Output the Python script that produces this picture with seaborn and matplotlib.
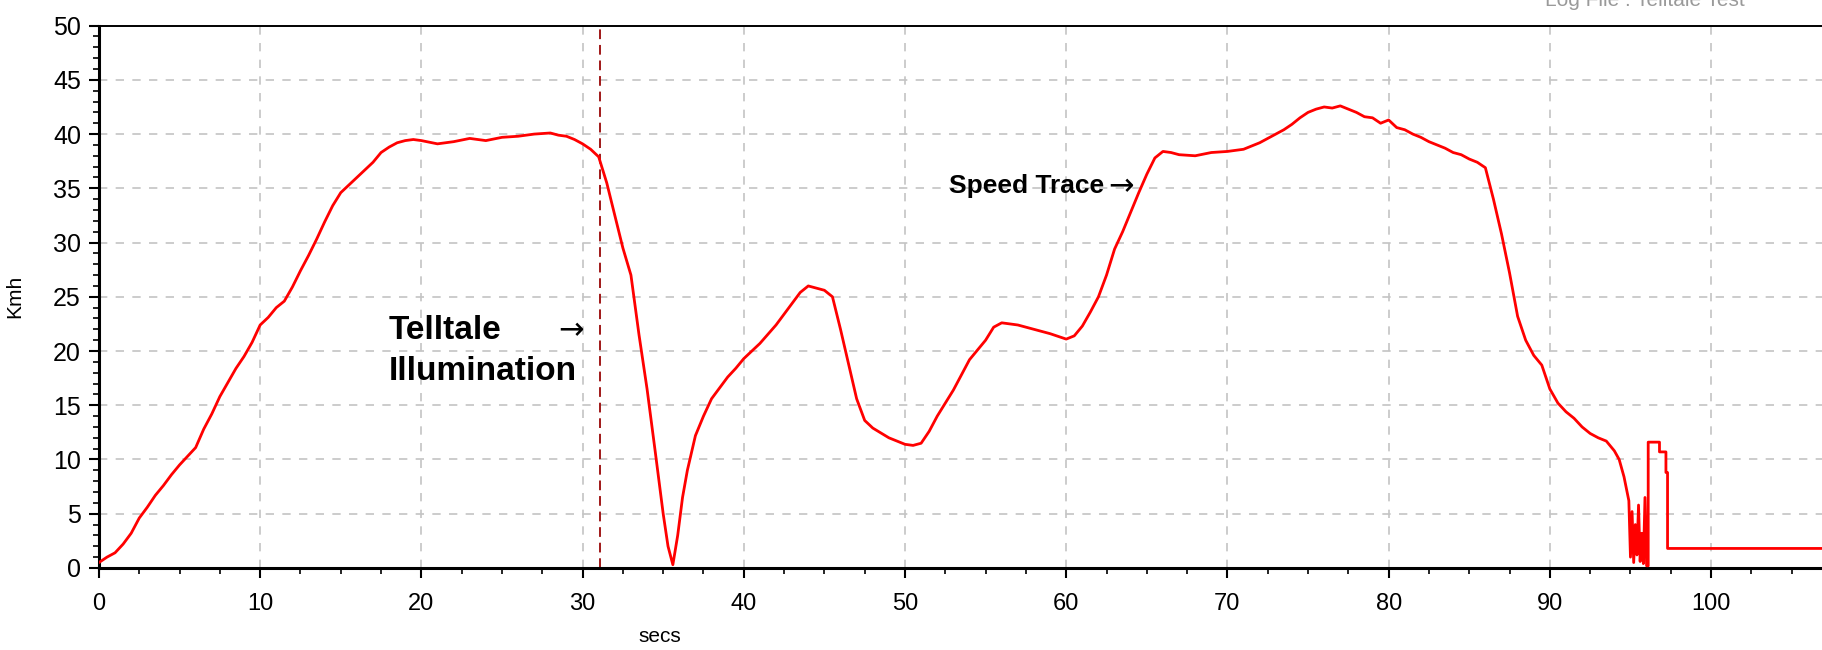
"""Speed trace with telltale illumination marker"""
import matplotlib
matplotlib.use("Agg")
import matplotlib.pyplot as plt
from matplotlib.ticker import MultipleLocator
import pandas as pd
import seaborn as sns

# data (rows of 10 in both lists)
secs = [0, 0.5, 1, 1.5, 2, 2.5, 3, 3.5, 4, 4.5,
        5, 5.5, 6, 6.5, 7, 7.5, 8, 8.5, 9, 9.5,
        10, 10.5, 11, 11.5, 12, 12.5, 13, 13.5, 14, 14.5,
        15, 15.5, 16, 16.5, 17, 17.5, 18, 18.5, 19, 19.5,
        20, 21, 22, 23, 24, 25, 26, 27, 28, 28.5,
        29, 29.5, 30, 30.5, 31, 31.5, 32, 32.5, 33, 33.5,
        34, 34.5, 35, 35.3, 35.6, 35.9, 36.2, 36.5, 37, 37.5,
        38, 38.5, 39, 39.5, 40, 41, 42, 43, 43.5, 44,
        44.5, 45, 45.5, 46, 46.5, 47, 47.5, 48, 49, 50,
        50.5, 51, 51.5, 52, 53, 54, 55, 55.5, 56, 57,
        58, 59, 60, 60.5, 61, 61.5, 62, 62.5, 63, 63.5,
        64, 64.5, 65, 65.5, 66, 66.5, 67, 68, 69, 70,
        71, 72, 72.5, 73, 73.5, 74, 74.5, 75, 75.5, 76,
        76.5, 77, 77.5, 78, 78.5, 79, 79.5, 80, 80.5, 81,
        81.5, 82, 82.5, 83, 83.5, 84, 84.5, 85, 85.5, 86,
        86.5, 87, 87.5, 88, 88.5, 89, 89.5, 90, 90.5, 91,
        91.5, 92, 92.5, 93, 93.5, 94, 94.3, 94.6, 94.9, 95.0,
        95.1, 95.2, 95.3, 95.4, 95.5, 95.6, 95.7, 95.8, 95.9, 96.0,
        96.1, 96.1, 96.8, 96.8, 97.2, 97.2, 97.3, 97.3, 110]
kmh = [0.5, 1.0, 1.4, 2.2, 3.2, 4.6, 5.6, 6.7, 7.6, 8.6,
       9.5, 10.3, 11.1, 12.8, 14.2, 15.8, 17.1, 18.4, 19.5, 20.8,
       22.4, 23.1, 24.0, 24.6, 25.9, 27.4, 28.8, 30.3, 31.9, 33.4,
       34.6, 35.3, 36.0, 36.7, 37.4, 38.3, 38.8, 39.2, 39.4, 39.5,
       39.4, 39.1, 39.3, 39.6, 39.4, 39.7, 39.8, 40.0, 40.1, 39.9,
       39.8, 39.5, 39.1, 38.6, 37.9, 35.5, 32.5, 29.5, 27.0, 21.5,
       16.5, 10.8, 5.0, 2.0, 0.3, 3.0, 6.5, 9.0, 12.2, 14.0,
       15.6, 16.6, 17.6, 18.4, 19.3, 20.7, 22.4, 24.4, 25.4, 26.0,
       25.8, 25.6, 25.0, 22.0, 18.8, 15.6, 13.6, 12.9, 12.0, 11.4,
       11.3, 11.5, 12.6, 14.0, 16.4, 19.2, 21.0, 22.2, 22.6, 22.4,
       22.0, 21.6, 21.1, 21.4, 22.3, 23.6, 25.0, 27.0, 29.4, 31.0,
       32.8, 34.6, 36.3, 37.8, 38.4, 38.3, 38.1, 38.0, 38.3, 38.4,
       38.6, 39.2, 39.6, 40.0, 40.4, 40.9, 41.5, 42.0, 42.3, 42.5,
       42.4, 42.6, 42.3, 42.0, 41.6, 41.5, 41.0, 41.3, 40.6, 40.4,
       40.0, 39.7, 39.3, 39.0, 38.7, 38.3, 38.1, 37.7, 37.4, 36.9,
       34.0, 30.8, 27.2, 23.2, 21.0, 19.6, 18.7, 16.5, 15.2, 14.4,
       13.8, 13.0, 12.4, 12.0, 11.7, 10.8, 10.0, 8.4, 6.2, 1.0,
       5.2, 0.5, 4.0, 1.2, 5.8, 0.6, 3.2, 0.4, 6.5, 0.2,
       0.2, 11.6, 11.6, 10.7, 10.7, 8.8, 8.8, 1.8, 1.8]
df = pd.DataFrame({"secs": secs, "kmh": kmh})

telltale_x = 31.1
x_ticks = list(range(0, 101, 10))

sns.set_theme(style="white")
plt.rcParams["font.family"] = ["Liberation Sans", "DejaVu Sans"]
plt.rcParams["text.color"] = "black"
plt.rcParams["axes.labelcolor"] = "black"

fig = plt.figure(figsize=(18.22, 6.5), dpi=100, facecolor="white")
ax = fig.add_axes([0.0543, 0.1262, 0.9733, 0.8344])

sns.lineplot(data=df, x="secs", y="kmh", ax=ax, color="#ff0000", linewidth=2.0,
             estimator=None, sort=False, zorder=3)
ax.axvline(telltale_x, color="#a01818", linestyle=(0, (5, 3)), linewidth=1.4, zorder=2)

ax.set_xlim(0, 110)
ax.set_ylim(0, 50)
ax.set_xticks(x_ticks)
ax.xaxis.set_minor_locator(MultipleLocator(2.5))
ax.yaxis.set_major_locator(MultipleLocator(5))
ax.yaxis.set_minor_locator(MultipleLocator(1))
ax.grid(True, which="major", color="#c4c4c4", linestyle=(0, (5, 5)), linewidth=1.2)
ax.set_axisbelow(True)

for side in ["left", "bottom"]:
    ax.spines[side].set_color("black")
    ax.spines[side].set_linewidth(2.2)
ax.spines["top"].set_color("black")
ax.spines["top"].set_linewidth(1.4)
ax.spines["right"].set_visible(False)

ax.tick_params(axis="both", which="major", direction="out", length=7, width=1.5,
               color="black", labelcolor="black")
ax.tick_params(axis="both", which="minor", direction="out", length=4, width=1.2,
               color="black")
ax.tick_params(axis="x", which="major", pad=11, labelsize=17)
ax.tick_params(axis="y", which="major", pad=6, labelsize=18)
ax.tick_params(bottom=True, left=True, which="both")

ax.set_xlabel("secs", fontsize=15)
ax.set_ylabel("Kmh", fontsize=15)
ax.xaxis.set_label_coords(0.316, -0.108)
ax.yaxis.set_label_coords(-0.042, 0.5)

# annotations
ax.text(18.0, 21.9, "Telltale", fontsize=24, fontweight="bold", va="center", ha="left")
ax.text(18.0, 18.1, "Illumination", fontsize=24, fontweight="bold", va="center", ha="left")
ax.text(28.5, 21.9, "\u2192", fontsize=22, va="center", ha="left",
        family=["DejaVu Sans"])
ax.text(52.7, 35.2, "Speed Trace", fontsize=19, fontweight="bold",
        va="center", ha="left")
ax.text(62.6, 35.2, "\u2192", fontsize=22, va="center", ha="left",
        family=["DejaVu Sans"])

fig.text(0.848, 1.0, "Log File : Telltale Test", fontsize=15, color="#9a9a9a",
         va="center", ha="left")

fig.savefig("out.png", dpi=100, facecolor="white")
plt.close(fig)
